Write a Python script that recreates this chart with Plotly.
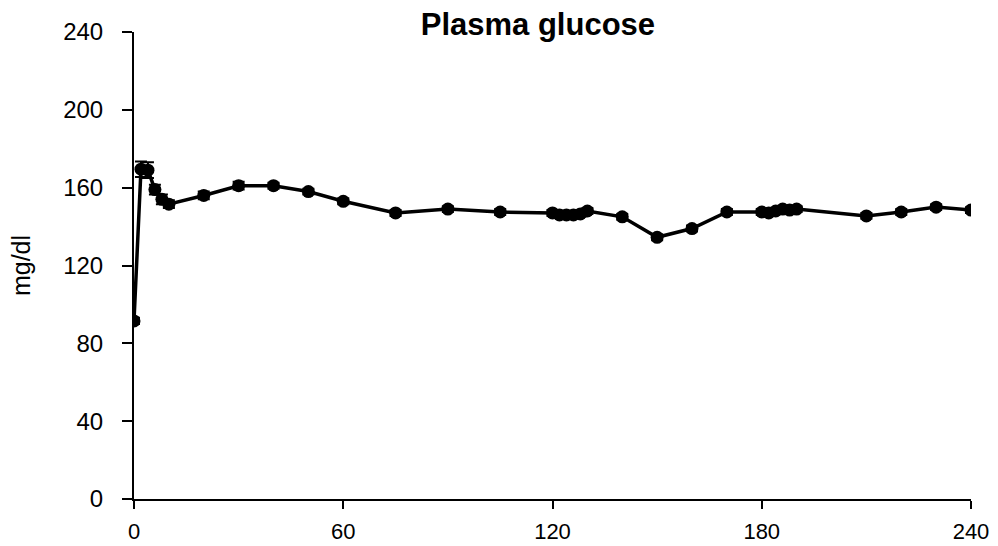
import plotly.graph_objects as go

# Sampling times (min) and mean plasma glucose (mg/dl) with SEM
time_min = [0, 2, 4, 6, 8, 10, 20, 30, 40, 50, 60, 75, 90, 105,
            120, 122, 124, 126, 128, 130, 140, 150, 160, 170,
            180, 182, 184, 186, 188, 190, 210, 220, 230, 240]
glucose = [91.5, 169.5, 169.0, 159.0, 154.0, 151.5, 156.0, 161.0, 161.0, 158.0, 153.0, 147.0, 149.0, 147.5,
           147.0, 146.0, 146.0, 146.0, 146.5, 148.0, 145.0, 134.5, 139.0, 147.5,
           147.5, 147.0, 148.0, 149.0, 148.5, 149.0, 145.5, 147.5, 150.0, 148.5]
sem = [1.5, 4.0, 4.0, 2.5, 2.5, 2.0, 2.0, 2.0, 1.5, 1.5, 1.5, 1.5, 1.5, 1.5,
       1.5, 1.5, 1.5, 1.5, 1.5, 1.5, 1.5, 1.5, 1.5, 1.5,
       1.5, 1.5, 1.5, 1.5, 1.5, 1.5, 1.5, 1.5, 1.5, 1.5]

x_ticks = [0, 60, 120, 180, 240]
y_ticks = [0, 40, 80, 120, 160, 200, 240]

fig = go.Figure()
fig.add_trace(go.Scatter(
    x=time_min, y=glucose,
    mode="lines+markers",
    line=dict(color="black", width=3.5),
    marker=dict(color="black", size=13, symbol="circle"),
    error_y=dict(type="data", array=sem, visible=True,
                 color="black", thickness=2, width=6),
    showlegend=False,
))

font_family = "Liberation Sans, Arial, sans-serif"

fig.update_layout(
    width=998, height=546,
    margin=dict(l=134, r=27, t=32, b=47),
    paper_bgcolor="white",
    plot_bgcolor="white",
    font=dict(family=font_family, size=24, color="black"),
    title=dict(text="<b>Plasma glucose</b>", x=0.539, xanchor="center",
               y=0.956, yanchor="middle",
               font=dict(family=font_family, size=31, color="black")),
)

fig.update_xaxes(
    range=[0, 240], tickvals=x_ticks, ticktext=[str(v) for v in x_ticks],
    showline=True, linecolor="black", linewidth=2,
    ticks="outside", ticklen=8, tickwidth=1.5, tickcolor="black",
    showgrid=False, zeroline=False, automargin=False,
    ticklabelstandoff=4,
    tickfont=dict(family=font_family, size=22, color="black"),
)
fig.update_yaxes(
    range=[0, 240], tickvals=y_ticks, ticktext=[str(v) for v in y_ticks],
    showline=True, linecolor="black", linewidth=2,
    ticks="outside", ticklen=10, tickwidth=1.5, tickcolor="black",
    showgrid=False, zeroline=False, automargin=False,
    ticklabelstandoff=14,
    title=dict(text="mg/dl", font=dict(family=font_family, size=25, color="black"), standoff=25),
    tickfont=dict(family=font_family, size=24, color="black"),
)

fig.write_html("out.html")
